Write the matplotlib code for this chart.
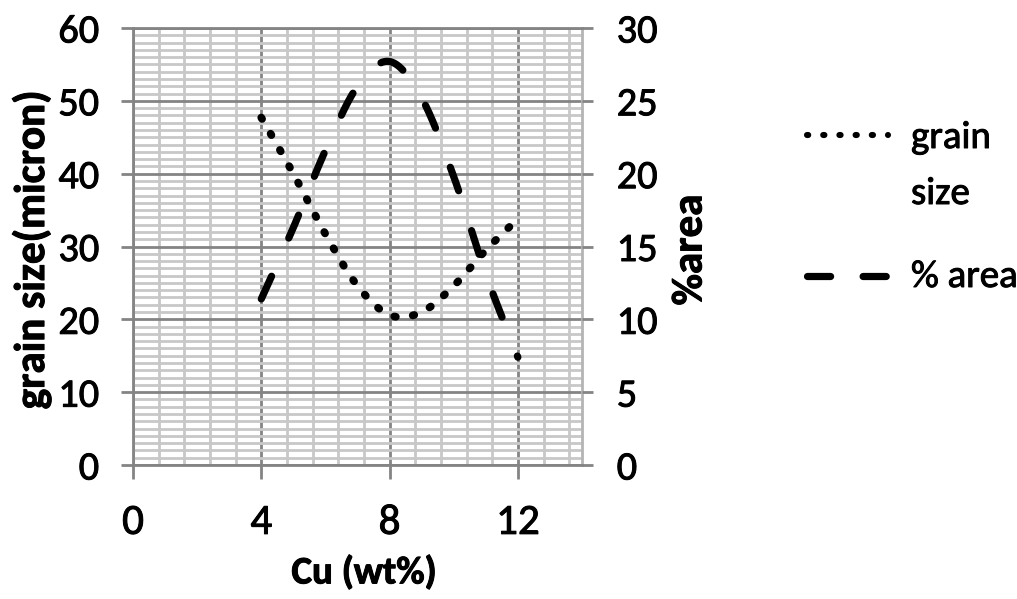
import numpy as np
import matplotlib
matplotlib.use("Agg")
import matplotlib.pyplot as plt
import matplotlib.patheffects as pe
from matplotlib.ticker import MultipleLocator
from matplotlib.lines import Line2D

# data
cu = [4, 5, 6, 7, 8, 9, 10, 11, 12]
grain_size = [47.7, 40.0, 31.7, 24.6, 20.6, 21.0, 24.6, 29.5, 33.8]
area_pct = [11.4, 16.3, 21.6, 26.0, 27.7, 25.2, 19.8, 13.1, 7.4]
x_ticks = [0, 4, 8, 12]

FONT = ['Carlito', 'DejaVu Sans']
plt.rcParams['font.family'] = FONT
plt.rcParams['font.stretch'] = 'condensed'
HEAVY = [pe.withStroke(linewidth=0.7, foreground='black')]


def smooth(x, y, n=30):
    # Catmull-Rom style smoothing, like the "smoothed line" option of a spreadsheet
    x = np.asarray(x, float)
    y = np.asarray(y, float)
    m = np.gradient(y, x)
    m[1:-1] = (y[2:] - y[:-2]) / (x[2:] - x[:-2])
    xs, ys = [], []
    for i in range(len(x) - 1):
        t = np.linspace(0, 1, n, endpoint=False)
        h = x[i + 1] - x[i]
        h00 = 2 * t**3 - 3 * t**2 + 1
        h10 = t**3 - 2 * t**2 + t
        h01 = -2 * t**3 + 3 * t**2
        h11 = t**3 - t**2
        xs.append(x[i] + t * h)
        ys.append(h00 * y[i] + h10 * h * m[i] + h01 * y[i + 1] + h11 * h * m[i + 1])
    xs.append([x[-1]])
    ys.append([y[-1]])
    return np.concatenate(xs), np.concatenate(ys)


fig = plt.figure(figsize=(10.17, 5.99), dpi=100)
fig.patch.set_facecolor('white')

ax = fig.add_axes([133 / 1017, 1 - 465 / 599, 449 / 1017, 437 / 599])
ax2 = ax.twinx()

ax.set_xlim(0, 14)
ax.set_ylim(0, 60)
ax2.set_ylim(0, 30)

ax.set_xticks(x_ticks)
ax.xaxis.set_minor_locator(MultipleLocator(0.8))
ax.set_yticks(range(0, 61, 10))
ax.yaxis.set_minor_locator(MultipleLocator(1))
ax2.set_yticks(range(0, 31, 5))

ax.set_axisbelow(True)
ax.grid(which='minor', color='#c8c8c8', lw=2.0)
ax.grid(which='major', color='#848484', lw=2.0)

for name, sp in ax.spines.items():
    sp.set_color('#848484')
    sp.set_linewidth(2.0)
ax.spines['right'].set_color('#b4b4b4')
for sp in ax2.spines.values():
    sp.set_visible(False)

ax.tick_params(axis='x', which='major', direction='out', length=10, width=2,
               color='#848484', pad=18, labelsize=31)
ax.tick_params(axis='y', which='major', direction='out', length=8.5, width=2,
               color='#848484', pad=16, labelsize=29)
ax.tick_params(which='minor', length=0)
ax2.tick_params(axis='y', which='major', direction='out', length=8, width=2,
                color='#848484', pad=17, labelsize=29)
ax2.tick_params(which='minor', length=0)
for lab in ax.get_xticklabels() + ax.get_yticklabels() + ax2.get_yticklabels():
    lab.set_path_effects(HEAVY)

# series
gx, gy = smooth(cu, grain_size)
ax.plot(gx, gy, color='black', lw=5.6, linestyle=(0, (0.2, 2.2)),
        dash_capstyle='round')
axx, ay = smooth(cu, area_pct)
ax2.plot(axx, ay, color='black', lw=5.2, linestyle=(0, (3.45, 5.8)),
         dash_capstyle='round')

# axis titles
ax.set_xlabel('Cu (wt%)', fontsize=28, fontweight='bold', path_effects=HEAVY)
ax.xaxis.set_label_coords(364 / 1017, 1 - 555 / 599, transform=fig.transFigure)
ax.xaxis.label.set_va('top')

ax.set_ylabel('grain size(micron)', fontsize=31, fontweight='bold',
              va='center', ha='center', path_effects=HEAVY)
ax.yaxis.set_label_coords(32 / 1017, 1 - 250 / 599, transform=fig.transFigure)

ax2.set_ylabel('%area', fontsize=31, fontweight='bold',
               rotation=90, va='center', ha='center', path_effects=HEAVY)
ax2.yaxis.set_label_coords(690 / 1017, 1 - 250 / 599, transform=fig.transFigure)

# legend, drawn by hand so the marker sits on the first line of "grain size"
fig.add_artist(Line2D([807 / 1017, 888 / 1017], [1 - 135 / 599, 1 - 135 / 599],
                      transform=fig.transFigure, color='black', lw=4.4,
                      linestyle=(0, (0.2, 2.45)), dash_capstyle='round'))
fig.add_artist(Line2D([807 / 1017, 887 / 1017], [1 - 276 / 599, 1 - 276 / 599],
                      transform=fig.transFigure, color='black', lw=5.2,
                      linestyle=(0, (3.2, 4.5)), dash_capstyle='round'))
for txt, ypx in [('grain', 148), ('size', 204), ('% area', 287)]:
    fig.text(911 / 1017, 1 - ypx / 599, txt, fontsize=28, va='baseline',
             path_effects=HEAVY)

fig.savefig('out.png', dpi=100)
